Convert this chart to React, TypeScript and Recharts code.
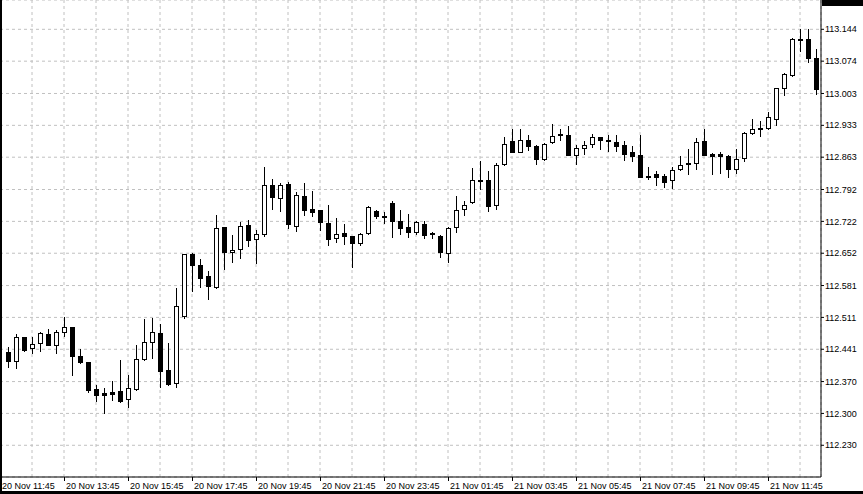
import React from 'react';
import { ComposedChart, Bar, XAxis, YAxis, CartesianGrid } from 'recharts';

// 15-minute candles, 20 Nov 12:00 .. 21 Nov 13:15
const opens = [
  112.434, 112.415, 112.467, 112.443, 112.454, 112.474, 112.451, 112.480, 112.489, 112.426,
  112.412, 112.353, 112.344, 112.346, 112.349, 112.332, 112.354, 112.420, 112.456, 112.476,
  112.395, 112.366, 112.514, 112.650, 112.626, 112.602, 112.577, 112.710, 112.654, 112.661,
  112.713, 112.683, 112.694, 112.801, 112.774, 112.804, 112.712, 112.777, 112.749, 112.746,
  112.718, 112.685, 112.696, 112.689, 112.674, 112.696, 112.744, 112.733, 112.762, 112.723,
  112.709, 112.699, 112.716, 112.696, 112.689, 112.652, 112.709, 112.749, 112.764, 112.812,
  112.812, 112.759, 112.847, 112.898, 112.875, 112.900, 112.887, 112.858, 112.896, 112.913,
  112.911, 112.867, 112.883, 112.891, 112.907, 112.900, 112.896, 112.889, 112.874, 112.867,
  112.822, 112.825, 112.822, 112.812, 112.836, 112.849, 112.850, 112.899, 112.870, 112.870,
  112.866, 112.836, 112.861, 112.916, 112.926, 112.927, 112.948, 113.014, 113.043, 113.122,
  113.122, 113.082,
];
const highs = [
  112.445, 112.474, 112.469, 112.467, 112.478, 112.485, 112.483, 112.511, 112.490, 112.441,
  112.413, 112.362, 112.356, 112.371, 112.417, 112.384, 112.450, 112.507, 112.510, 112.496,
  112.454, 112.575, 112.651, 112.652, 112.639, 112.613, 112.736, 112.710, 112.692, 112.721,
  112.724, 112.703, 112.841, 112.814, 112.806, 112.809, 112.786, 112.806, 112.789, 112.747,
  112.758, 112.729, 112.716, 112.690, 112.697, 112.756, 112.747, 112.743, 112.767, 112.747,
  112.738, 112.722, 112.722, 112.699, 112.691, 112.709, 112.777, 112.767, 112.839, 112.855,
  112.832, 112.850, 112.907, 112.925, 112.924, 112.911, 112.889, 112.894, 112.935, 112.924,
  112.931, 112.889, 112.898, 112.913, 112.908, 112.911, 112.911, 112.898, 112.888, 112.912,
  112.841, 112.833, 112.826, 112.841, 112.866, 112.881, 112.905, 112.925, 112.873, 112.874,
  112.868, 112.881, 112.918, 112.947, 112.942, 112.962, 113.015, 113.049, 113.124, 113.144,
  113.144, 113.100,
];
const lows = [
  112.403, 112.400, 112.438, 112.433, 112.438, 112.450, 112.433, 112.471, 112.385, 112.411,
  112.348, 112.328, 112.302, 112.329, 112.324, 112.315, 112.352, 112.418, 112.422, 112.359,
  112.363, 112.359, 112.510, 112.570, 112.578, 112.551, 112.576, 112.617, 112.633, 112.642,
  112.668, 112.631, 112.689, 112.750, 112.745, 112.708, 112.701, 112.737, 112.734, 112.703,
  112.669, 112.677, 112.673, 112.622, 112.669, 112.695, 112.730, 112.718, 112.688, 112.695,
  112.688, 112.695, 112.686, 112.686, 112.644, 112.633, 112.698, 112.736, 112.763, 112.793,
  112.745, 112.749, 112.846, 112.874, 112.874, 112.879, 112.849, 112.857, 112.895, 112.900,
  112.867, 112.847, 112.869, 112.885, 112.882, 112.877, 112.877, 112.857, 112.855, 112.819,
  112.816, 112.803, 112.798, 112.796, 112.835, 112.825, 112.836, 112.867, 112.827, 112.829,
  112.820, 112.829, 112.855, 112.915, 112.910, 112.926, 112.933, 113.000, 113.042, 113.097,
  113.072, 113.002,
];
const closes = [
  112.416, 112.467, 112.439, 112.452, 112.476, 112.451, 112.480, 112.489, 112.427, 112.414,
  112.351, 112.341, 112.341, 112.343, 112.328, 112.355, 112.420, 112.456, 112.478, 112.394,
  112.365, 112.535, 112.650, 112.626, 112.598, 112.581, 112.707, 112.655, 112.659, 112.711,
  112.682, 112.694, 112.803, 112.776, 112.801, 112.716, 112.779, 112.748, 112.743, 112.721,
  112.684, 112.694, 112.689, 112.675, 112.694, 112.753, 112.733, 112.732, 112.723, 112.708,
  112.699, 112.720, 112.693, 112.694, 112.655, 112.707, 112.746, 112.759, 112.812, 112.811,
  112.756, 112.845, 112.891, 112.875, 112.900, 112.888, 112.860, 112.891, 112.909, 112.911,
  112.868, 112.884, 112.890, 112.907, 112.900, 112.899, 112.888, 112.871, 112.866, 112.820,
  112.821, 112.820, 112.809, 112.834, 112.845, 112.850, 112.896, 112.868, 112.866, 112.866,
  112.836, 112.858, 112.916, 112.924, 112.927, 112.951, 113.014, 113.046, 113.122, 113.123,
  113.082, 113.013,
];

const timeLabels = [
  '20 Nov 11:45', '20 Nov 13:45', '20 Nov 15:45', '20 Nov 17:45', '20 Nov 19:45',
  '20 Nov 21:45', '20 Nov 23:45', '21 Nov 01:45', '21 Nov 03:45', '21 Nov 05:45',
  '21 Nov 07:45', '21 Nov 09:45', '21 Nov 11:45',
];

const priceTicks = [
  113.144, 113.074, 113.003, 112.933, 112.863, 112.792, 112.722,
  112.652, 112.581, 112.511, 112.441, 112.370, 112.300, 112.230,
];

const FONT = '"Liberation Sans", Arial, sans-serif';

const data = opens.map((open, i) => ({
  idx: i + 1,
  open,
  high: highs[i],
  low: lows[i],
  close: closes[i],
}));

// grid every 4 bars, label every 8 bars
const xTicks = Array.from({ length: 26 }, (_, i) => i * 4);

const Candle = (props: any) => {
  const { x, y, width, height, payload } = props;
  if (x == null || y == null) return null;
  const top = Math.min(y, y + height);
  const h = Math.abs(height);
  const range = payload.high - payload.low || 1;
  const k = h / range;
  const toY = (v: number) => top + (payload.high - v) * k;
  const cx = Math.round(x + width / 2) + 0.5;
  const yo = toY(payload.open);
  const yc = toY(payload.close);
  const bull = payload.close >= payload.open;
  let bTop = Math.round(Math.min(yo, yc)) + 0.5;
  let bBot = Math.round(Math.max(yo, yc)) + 0.5;
  if (bBot - bTop < 1) bBot = bTop + 1;
  return (
    <g>
      <line x1={cx} x2={cx} y1={Math.round(top)} y2={Math.round(top + h) + 1} stroke="#000" strokeWidth={1} />
      <rect
        x={cx - 2}
        y={bTop}
        width={4}
        height={bBot - bTop}
        fill={bull ? '#fff' : '#000'}
        stroke="#000"
        strokeWidth={1}
      />
    </g>
  );
};

const TimeTick = (props: any) => {
  const { x, y, payload } = props;
  const v = payload.value as number;
  if (v % 8 !== 0) return null;
  const label = timeLabels[v / 8];
  if (!label) return null;
  const px = Math.round(x) + 0.5;
  return (
    <g>
      <line x1={px} x2={px} y1={y} y2={y + 4} stroke="#000" />
      <text x={px + 1.5} y={y + 12} fontSize={9} fontFamily={FONT} fill="#000" textAnchor="start">
        {label}
      </text>
    </g>
  );
};

const PriceTick = (props: any) => {
  const { x, y, payload } = props;
  return (
    <text x={x} y={y} dy="0.35em" fontSize={9} fontFamily={FONT} fill="#000" textAnchor="start">
      {(payload.value as number).toFixed(3)}
    </text>
  );
};

export default function App() {
  return (
    <div style={{ position: 'absolute', left: 0, top: 0, width: 863, height: 494, background: '#fff' }}>
      <ComposedChart width={863} height={494} data={data} margin={{ top: 0, right: 0, bottom: 0, left: 0 }}>
        <CartesianGrid stroke="#c0c0c0" strokeDasharray="3 3" />
        <XAxis
          dataKey="idx"
          type="number"
          domain={[0, 102.625]}
          ticks={xTicks}
          interval={0}
          height={17}
          axisLine={{ stroke: '#000' }}
          tickLine={false}
          tickSize={0}
          tickMargin={0}
          tick={<TimeTick />}
          allowDataOverflow
        />
        <YAxis
          orientation="right"
          width={42}
          domain={[112.1603, 113.2084]}
          ticks={priceTicks}
          interval={0}
          axisLine={{ stroke: '#000' }}
          tickLine={{ stroke: '#000' }}
          tickSize={3}
          tickMargin={1}
          tick={<PriceTick />}
          allowDataOverflow
        />
        <Bar
          dataKey={(d: any) => [d.low, d.high]}
          barSize={5}
          shape={<Candle />}
          isAnimationActive={false}
        />
      </ComposedChart>
      <div style={{ position: 'absolute', left: 0, top: 0, width: 2, height: 494, background: '#000' }} />
      <div style={{ position: 'absolute', left: 0, top: 491, width: 863, height: 3, background: '#000' }} />
      <div style={{ position: 'absolute', left: 822, top: 0, width: 41, height: 6, background: '#000' }} />
    </div>
  );
}
